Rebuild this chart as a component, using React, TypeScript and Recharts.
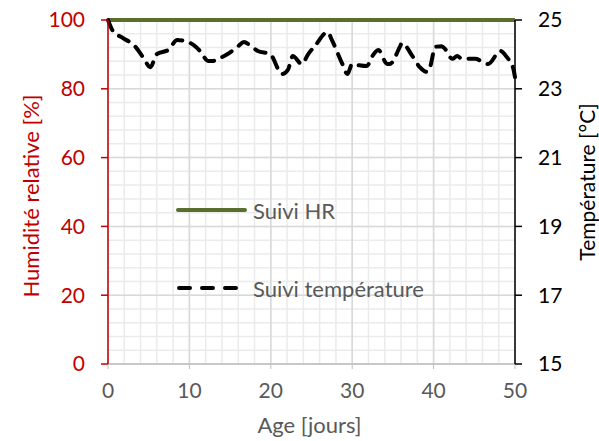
import React from "react";
import { LineChart, Line, XAxis, YAxis, CartesianGrid } from "recharts";

// age in days and measured temperature (°C)
const ages = [
  0, 0.6, 1.8, 3.3, 4.3, 5.2, 6.0, 7.4, 8.5, 10.1, 11.3, 12.3, 12.9, 13.5, 14.7, 16.0, 16.7, 17.4, 18.4, 19.9,
  21.4, 22.1, 22.7, 23.8, 24.6, 25.4, 27.0, 27.5, 28.8, 29.4, 30.0, 30.7, 31.8, 32.4, 33.2, 34.3, 34.6, 35.9,
  36.1, 37.4, 38.3, 39.2, 39.6, 40.2, 41.0, 41.4, 42.3, 42.9, 43.5, 45.1, 46.7, 48.2, 49.0, 49.8, 50,
];
const temperatures = [
  25.0, 24.68, 24.48, 24.24, 23.92, 23.63, 24.01, 24.13, 24.42, 24.33, 24.1, 23.81, 23.81, 23.87, 24.01, 24.24,
  24.36, 24.27, 24.1, 24.01, 23.43, 23.55, 23.95, 23.72, 24.01, 24.24, 24.65, 24.42, 23.72, 23.43, 23.72, 23.69,
  23.66, 23.92, 24.13, 23.72, 23.72, 24.24, 24.33, 23.95, 23.63, 23.49, 23.66, 24.22, 24.24, 24.16, 23.87, 23.95,
  23.87, 23.87, 23.72, 24.1, 23.92, 23.58, 23.34,
];
const humidity = ages.map(() => 100);

const xTicks = [0, 10, 20, 30, 40, 50];
const hrTicks = [0, 20, 40, 60, 80, 100];
const tempTicks = [15, 17, 19, 21, 23, 25];
const xMinorTicks = [0, 2, 4, 6, 8, 10, 12, 14, 16, 18, 20, 22, 24, 26, 28, 30, 32, 34, 36, 38, 40, 42, 44, 46, 48, 50];
const hrMinorTicks = [0, 4, 8, 12, 16, 20, 24, 28, 32, 36, 40, 44, 48, 52, 56, 60, 64, 68, 72, 76, 80, 84, 88, 92, 96, 100];

const data = ages.map((age, i) => ({ age, hr: humidity[i], temp: temperatures[i] }));

const FONT = "Lato, 'Open Sans', sans-serif";
const RED = "#c00000";
const GREEN = "#5a6e2e";
const GREY = "#595959";

const scaleOf = (axis: any) => (typeof axis?.scale === "function" ? axis.scale : axis?.scale?.map ?? ((v: number) => v));

const LeftTitle = ({ viewBox }: any) => {
  const cx = viewBox.x + 30;
  const cy = viewBox.y + viewBox.height / 2 + 4;
  return (
    <text x={cx} y={cy} transform={`rotate(-90 ${cx} ${cy})`} textAnchor="middle" dominantBaseline="central" fill={RED} fontSize={22} fontFamily={FONT}>
      Humidité relative [%]
    </text>
  );
};

const RightTitle = ({ viewBox }: any) => {
  const cx = viewBox.x + 71;
  const cy = viewBox.y + viewBox.height / 2 - 10;
  return (
    <text x={cx} y={cy} transform={`rotate(-90 ${cx} ${cy})`} textAnchor="middle" dominantBaseline="central" fill="#000" fontSize={21} fontFamily={FONT}>
      Température [°C]
    </text>
  );
};

const BottomTitle = ({ viewBox }: any) => (
  <text x={viewBox.x + viewBox.width / 2 - 2} y={viewBox.y + 60} textAnchor="middle" dominantBaseline="central" fill={GREY} fontSize={22} fontFamily={FONT}>
    Age [jours]
  </text>
);

function ChartLegend() {
  return (
    <div style={{ position: "absolute", left: 176, top: 197, fontFamily: FONT, fontSize: 22, color: GREY }}>
      <div style={{ display: "flex", alignItems: "center", height: 26 }}>
        <svg width={77} height={26}>
          <line x1={2} y1={13} x2={69} y2={13} stroke={GREEN} strokeWidth={4} strokeLinecap="round" />
        </svg>
        <span>Suivi HR</span>
      </div>
      <div style={{ display: "flex", alignItems: "center", height: 26, marginTop: 52 }}>
        <svg width={77} height={26}>
          <line x1={3} y1={13} x2={69} y2={13} stroke="#000" strokeWidth={4} strokeLinecap="round" strokeDasharray="11 12" />
        </svg>
        <span>Suivi température</span>
      </div>
    </div>
  );
}

export default function App() {
  return (
    <div style={{ position: "absolute", left: 0, top: 0, width: 599, height: 441, background: "#fff" }}>
      <LineChart width={599} height={441} data={data} margin={{ top: 20, right: 0, bottom: 0, left: 0 }}>
        <CartesianGrid
          yAxisId="hr"
          stroke="#ebebeb"
          strokeWidth={1.5}
          horizontalCoordinatesGenerator={({ yAxis }: any) => hrMinorTicks.map((v) => scaleOf(yAxis)(v))}
          verticalCoordinatesGenerator={({ xAxis }: any) => xMinorTicks.map((v) => scaleOf(xAxis)(v))}
        />
        <CartesianGrid yAxisId="hr" stroke="#d9d9d9" strokeWidth={1.5} />
        <XAxis
          dataKey="age"
          type="number"
          domain={[0, 50]}
          ticks={xTicks}
          height={77}
          axisLine={{ stroke: "#bfbfbf", strokeWidth: 1.5 }}
          tickLine={{ stroke: "#bfbfbf" }}
          tickSize={5}
          tickMargin={14}
          tick={{ fill: GREY, fontSize: 21, fontFamily: FONT }}
          label={<BottomTitle />}
        />
        <YAxis
          yAxisId="hr"
          type="number"
          domain={[0, 100]}
          ticks={hrTicks}
          width={108}
          axisLine={{ stroke: RED, strokeWidth: 1.5 }}
          tickLine={{ stroke: RED, strokeWidth: 1.5 }}
          tickSize={7}
          tickMargin={16}
          tick={{ fill: RED, fontSize: 21, fontFamily: FONT }}
          label={<LeftTitle />}
        />
        <YAxis
          yAxisId="temp"
          orientation="right"
          type="number"
          domain={[15, 25]}
          ticks={tempTicks}
          width={84}
          axisLine={{ stroke: "#000", strokeWidth: 1.5 }}
          tickLine={{ stroke: "#000", strokeWidth: 1.5 }}
          tickSize={7}
          tickMargin={16}
          tick={{ fill: "#000", fontSize: 21, fontFamily: FONT }}
          label={<RightTitle />}
        />
        <Line yAxisId="hr" dataKey="hr" stroke={GREEN} strokeWidth={4} dot={false} isAnimationActive={false} />
        <Line
          yAxisId="temp"
          dataKey="temp"
          type="monotone"
          stroke="#000"
          strokeWidth={4}
          strokeDasharray="11 9"
          strokeLinecap="round"
          dot={false}
          isAnimationActive={false}
        />
      </LineChart>
      <ChartLegend />
    </div>
  );
}
